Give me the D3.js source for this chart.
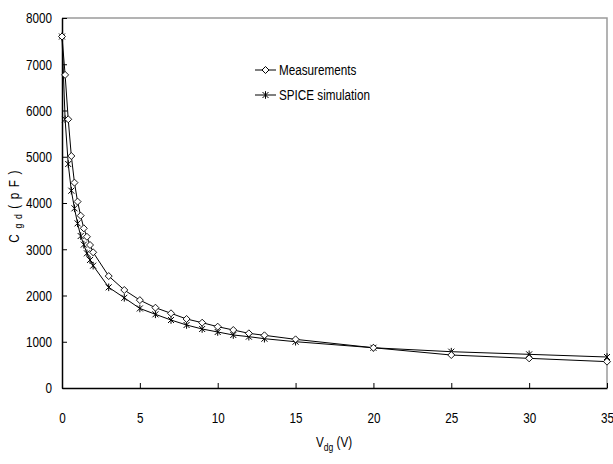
<!DOCTYPE html>
<html>
<head>
<meta charset="utf-8">
<script src="https://cdn.jsdelivr.net/npm/d3@7"></script>
<style>
  body{margin:0;background:#fff;}
  svg text{font-family:"Liberation Sans",Arial,sans-serif;fill:#000;}
</style>
</head>
<body>
<svg id="chart" width="613" height="464"></svg>
<script>
const vdg=[0,0.2,0.4,0.6,0.8,1.0,1.2,1.4,1.6,1.8,2.0,3,4,5,6,7,8,9,10,11,12,13,15,20,25,30,35];
const measured=[7600,6770,5810,5016,4440,4030,3726,3453,3270,3092,2934,2420,2119,1900,1736,1615,1492,1412,1326,1254,1182,1139,1052,870,713,641,570];
const spice=[7600,5810,4843,4266,3885,3560,3286,3100,2912,2768,2645,2177,1950,1720,1593,1470,1362,1276,1211,1146,1110,1066,1001,870,785,728,670];
const xTicks=[0,5,10,15,20,25,30,35];
const yTicks=[0,1000,2000,3000,4000,5000,6000,7000,8000];

const svg=d3.select("#chart");
const x=d3.scaleLinear().domain([0,35]).range([62,607]);
const y=d3.scaleLinear().domain([0,8000]).range([388,18]);
const fs=15, sx=0.78;

// squeeze text horizontally around its anchor, like a narrow font
function narrow(sel){
  sel.each(function(){
    const t=d3.select(this);
    const ax=+t.attr("x")||0;
    t.attr("transform",`translate(${ax},0) scale(${sx},1) translate(${-ax},0)`);
  });
}

// plot frame, gray top and right
svg.append("path")
  .attr("d",`M${x(0)},${y(8000)}H${x(35)}V${y(0)}`)
  .attr("fill","none").attr("stroke","#9a9a9a").attr("stroke-width",1.5);

const xa=svg.append("g").attr("transform",`translate(0,${y(0)})`)
  .call(d3.axisBottom(x).tickValues(xTicks).tickFormat(d3.format("d")).tickSizeInner(-5).tickSizeOuter(0).tickPadding(24));
const ya=svg.append("g").attr("transform",`translate(${x(0)},0)`)
  .call(d3.axisLeft(y).tickValues(yTicks).tickFormat(d3.format("d")).tickSizeInner(-5).tickSizeOuter(0).tickPadding(10));
[xa,ya].forEach(a=>{
  a.select(".domain").attr("stroke","#000").attr("stroke-width",1.5);
  a.selectAll(".tick line").attr("stroke","#000");
  a.selectAll("text").attr("font-size",fs).attr("font-family",null).call(narrow);
});

const line=d3.line().x((d,i)=>x(vdg[i])).y(d=>y(d));
svg.append("path").datum(measured).attr("d",line)
  .attr("fill","none").attr("stroke","#000").attr("stroke-width",1);
svg.append("path").datum(spice).attr("d",line)
  .attr("fill","none").attr("stroke","#000").attr("stroke-width",1);

const diamond="M0,-3.5L3.5,0L0,3.5L-3.5,0Z";
const star="M-3,-3L3,3M-3,3L3,-3M0,-3.8V3.8";

svg.append("g").selectAll("path").data(spice).join("path")
  .attr("transform",(d,i)=>`translate(${x(vdg[i])},${y(d)})`)
  .attr("d",star).attr("fill","none").attr("stroke","#000").attr("stroke-width",1);
svg.append("g").selectAll("path").data(measured).join("path")
  .attr("transform",(d,i)=>`translate(${x(vdg[i])},${y(d)})`)
  .attr("d",diamond).attr("fill","#fff").attr("stroke","#000").attr("stroke-width",0.9);

// legend
const legend=[{name:"Measurements",mark:diamond,y:70},{name:"SPICE simulation",mark:star,y:95}];
const lg=svg.append("g");
legend.forEach(l=>{
  lg.append("line").attr("x1",255).attr("x2",276).attr("y1",l.y).attr("y2",l.y).attr("stroke","#000");
  lg.append("path").attr("transform",`translate(265.5,${l.y})`).attr("d",l.mark)
    .attr("fill","#fff").attr("stroke","#000");
  lg.append("text").attr("x",279).attr("y",l.y+5).attr("font-size",fs).text(l.name).call(narrow);
});

// axis titles
const xt=svg.append("text").attr("x",334).attr("y",447).attr("text-anchor","middle").attr("font-size",fs);
xt.append("tspan").text("V");
xt.append("tspan").attr("font-size",11).attr("dy",4).text("dg");
xt.append("tspan").attr("dy",-4).text(" (V)");
narrow(xt);

const yt=svg.append("text").attr("transform",`translate(19,206) rotate(-90) scale(${sx},1)`)
  .attr("text-anchor","middle").attr("font-size",fs).attr("letter-spacing",1.5);
yt.append("tspan").text("C ");
yt.append("tspan").attr("font-size",11).attr("dy",3).text("g d");
yt.append("tspan").attr("dy",-3).text(" ( p F )");
</script>
</body>
</html>
